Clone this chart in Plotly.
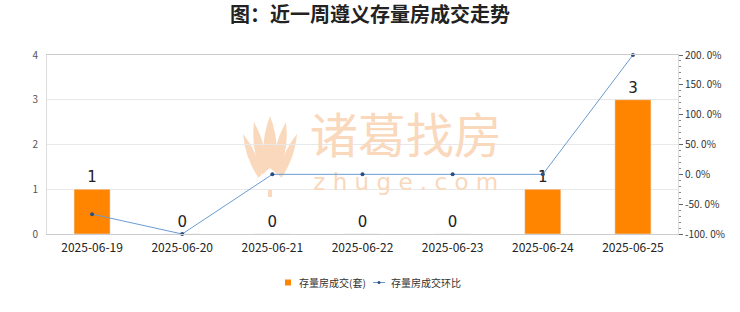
import plotly.graph_objects as go

dates = ["2025-06-19", "2025-06-20", "2025-06-21", "2025-06-22",
         "2025-06-23", "2025-06-24", "2025-06-25"]
deals = [1, 0, 0, 0, 0, 1, 3]
mom_pct = [-66.7, -100, 0, 0, 0, 0, 200]

left_ticks = [0, 1, 2, 3, 4]
right_ticks = [-100, -50, 0, 50, 100, 150, 200]
right_labels = [f"{v:.1f}%".replace(".", ". ") for v in right_ticks]

BAR_NAME = "存量房成交(套)"
LINE_NAME = "存量房成交环比"

FONT = "Noto Sans CJK SC"
WM = "#f9d8bc"
BAR_COLOR = "#ff8400"
LINE_COLOR = "#6b9bd2"
DOT_COLOR = "#2d4f7c"

# plot area in pixels
L, T, W, H = 47, 55, 631, 179


def px(x):
    return (x - L) / W


def py(y):
    return (T + H - y) / H


def petal(bx, by, tx, ty, w):
    mx, my = (bx + tx) / 2, (by + ty) / 2
    dx, dy = tx - bx, ty - by
    n = (dx * dx + dy * dy) ** 0.5
    ox, oy = -dy / n * w, dx / n * w
    pts = [(bx, by), (mx + ox, my + oy), (tx, ty), (mx - ox, my - oy)]
    p = [(px(a), py(b)) for a, b in pts]
    return (f"M {p[0][0]} {p[0][1]} Q {p[1][0]} {p[1][1]} {p[2][0]} {p[2][1]} "
            f"Q {p[3][0]} {p[3][1]} {p[0][0]} {p[0][1]} Z")


idx = list(range(len(dates)))

fig = go.Figure()
# watermark text, drawn first so the data sits on top of it
fig.add_trace(go.Scatter(
    x=[3.48], y=[2.08], mode="text", text=["诸葛找房"], textposition="middle center",
    textfont=dict(size=48, color=WM, family=FONT), hoverinfo="skip", showlegend=False,
))
fig.add_trace(go.Scatter(
    x=[3.48], y=[1.12], mode="text", text=["z h u g e . c o m"],
    textposition="middle center",
    textfont=dict(size=23, color=WM, family="DejaVu Sans"),
    hoverinfo="skip", showlegend=False,
))
fig.add_trace(go.Bar(
    x=idx, y=deals, name=BAR_NAME,
    marker=dict(color=BAR_COLOR), width=0.4,
    text=[str(v) for v in deals], textposition="outside",
    textfont=dict(size=15, color="#222", family="DejaVu Sans"),
    cliponaxis=False, yaxis="y", showlegend=False,
))
fig.add_trace(go.Scatter(
    x=idx, y=mom_pct, name=LINE_NAME, yaxis="y2",
    mode="lines+markers",
    line=dict(color=LINE_COLOR, width=1),
    marker=dict(color=DOT_COLOR, size=4),
    cliponaxis=False, showlegend=False,
))

# lotus logo of the watermark
shapes = []
for bx, by, tx, ty, w in [
    (263, 184, 243, 134, 8), (277, 184, 297, 134, 8),
    (266, 182, 254, 122, 10), (274, 182, 286, 122, 10),
    (270, 182, 270, 116, 13),
]:
    shapes.append(dict(type="path", xref="paper", yref="paper", layer="below",
                       path=petal(bx, by, tx, ty, w),
                       fillcolor=WM, line=dict(width=0)))
house = [(258, 178), (270, 168), (282, 178), (282, 190), (258, 190)]
hp = " L ".join(f"{px(a)} {py(b)}" for a, b in house)
shapes.append(dict(type="path", xref="paper", yref="paper", layer="below",
                   path=f"M {hp} Z", fillcolor="white", line=dict(width=0)))
shapes.append(dict(type="rect", xref="paper", yref="paper", layer="below",
                   x0=px(268), x1=px(272), y0=py(197), y1=py(190),
                   fillcolor=WM, line=dict(width=0)))

# compact legend below the plot
LY = 282.5
shapes.append(dict(type="rect", xref="paper", yref="paper",
                   x0=px(285), x1=px(291), y0=py(LY + 3), y1=py(LY - 3),
                   fillcolor=BAR_COLOR, line=dict(width=0)))
shapes.append(dict(type="line", xref="paper", yref="paper",
                   x0=px(373), x1=px(385), y0=py(LY), y1=py(LY),
                   line=dict(color=LINE_COLOR, width=1)))
shapes.append(dict(type="circle", xref="paper", yref="paper",
                   x0=px(377.5), x1=px(380.5), y0=py(LY + 1.5), y1=py(LY - 1.5),
                   fillcolor=DOT_COLOR, line=dict(width=0)))
annotations = [
    dict(x=px(297), y=py(LY), xref="paper", yref="paper", text=BAR_NAME,
         showarrow=False, xanchor="left", yanchor="middle",
         font=dict(size=10, color="#333", family=FONT)),
    dict(x=px(389), y=py(LY), xref="paper", yref="paper", text=LINE_NAME,
         showarrow=False, xanchor="left", yanchor="middle",
         font=dict(size=10, color="#333", family=FONT)),
]

fig.update_layout(
    width=740, height=312,
    margin=dict(l=L, r=740 - L - W, t=T, b=312 - T - H, autoexpand=False),
    paper_bgcolor="white", plot_bgcolor="white",
    shapes=shapes, annotations=annotations,
    title=dict(text="<b>图：近一周遵义存量房成交走势</b>", x=0.5, xanchor="center",
               y=0.952, yanchor="middle",
               font=dict(size=20, color="#222", family=FONT)),
    font=dict(family=FONT, color="#333"),
    showlegend=False,
    xaxis=dict(range=[-0.5, 6.5], tickvals=idx, ticktext=dates,
               showgrid=False, showline=True, linecolor="#ccc", zeroline=False,
               ticks="", tickfont=dict(size=12, color="#222"), mirror=True,
               ticklabelstandoff=3),
    yaxis=dict(range=[0, 4], tickvals=left_ticks, showgrid=True, gridcolor="#e8e8e8",
               showline=True, linecolor="#ddd", zeroline=False,
               tickfont=dict(size=10, color="#555"), ticks="", ticklabelstandoff=6),
    yaxis2=dict(range=[-100, 200], overlaying="y", side="right",
                tickvals=right_ticks, ticktext=right_labels,
                showgrid=False, zeroline=False, showline=True, linecolor="#ddd",
                ticks="outside", ticklen=4, tickcolor="#666",
                minor=dict(dtick=10, ticks="outside", ticklen=2, tickcolor="#888"),
                tickfont=dict(size=10, color="#333")),
)

fig.write_html("out.html")
